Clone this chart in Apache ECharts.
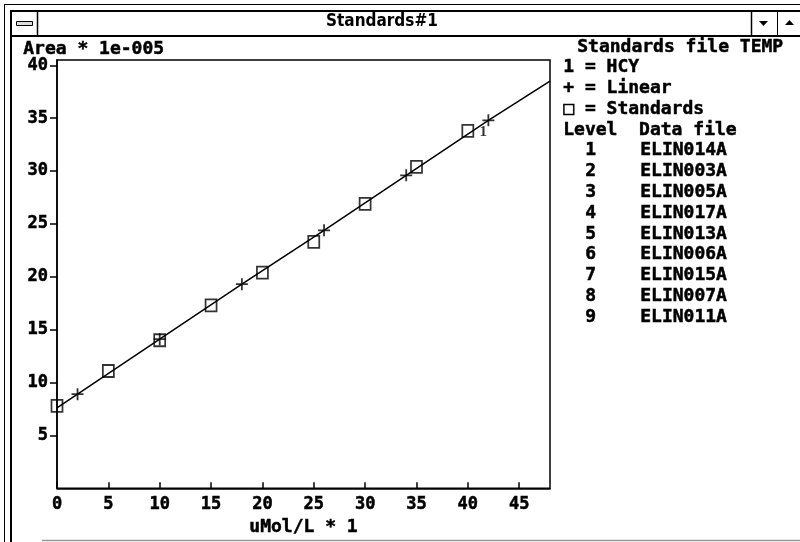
<!DOCTYPE html>
<html>
<head>
<meta charset="utf-8">
<title>Standards#1</title>
<script src="https://cdn.jsdelivr.net/npm/echarts@6/dist/echarts.min.js"></script>
<style>
  html, body { margin: 0; padding: 0; background: #fff; }
  #chart { width: 800px; height: 542px; }
</style>
</head>
<body>
<div id="chart"></div>
<script>
// standards (squares)
const standardsX = [0, 5, 10, 15, 20, 25, 30, 35, 40]
const standardsY = [7.8, 11.1, 14.0, 17.3, 20.4, 23.3, 26.9, 30.4, 33.8]
// linear fit markers (+)
const linearX = [2, 10, 18, 26, 34, 42]
const linearY = [8.9, 14.1, 19.3, 24.4, 29.6, 34.8]
// calibration curve
const curveX = [0, 2, 10, 18, 26, 34, 42, 48]
const curveY = [7.6, 8.9, 14.1, 19.3, 24.4, 29.6, 34.8, 38.5]
// HCY point, drawn as "1"
const hcyX = [41.5]
const hcyY = [33.7]

const xTicks = [0, 5, 10, 15, 20, 25, 30, 35, 40, 45]
const yTicks = [5, 10, 15, 20, 25, 30, 35, 40]

const legendLines = ['1 = HCY', '+ = Linear', '\u25A1 = Standards', 'Level  Data file']
const levels = [1, 2, 3, 4, 5, 6, 7, 8, 9]
const dataFiles = ['ELIN014A', 'ELIN003A', 'ELIN005A', 'ELIN017A', 'ELIN013A',
  'ELIN006A', 'ELIN015A', 'ELIN007A', 'ELIN011A']

const MONO = '"DejaVu Sans Mono", monospace'
const pair = (xs, ys) => xs.map((x, i) => [x, ys[i]])

// thicker strokes to mimic the old bitmap font
const heavy = { textBorderColor: '#000', textBorderWidth: 0.5 }

const txt = (text, x, y, extra) => ({
  type: 'text',
  left: x,
  top: y - 9,
  style: Object.assign({
    text: text,
    fontFamily: MONO,
    fontWeight: 'bold',
    fontSize: 18,
    fill: '#000',
    stroke: '#000',
    lineWidth: 0.5
  }, extra || {})
})
const ln = (x1, y1, x2, y2, w, c) => ({
  type: 'line',
  shape: { x1: x1, y1: y1, x2: x2, y2: y2 },
  style: { stroke: c || '#000', lineWidth: w || 1 }
})

const graphics = [
  // window frame
  ln(4.5, 4, 4.5, 542, 1),
  ln(11, 10, 11, 542, 2),
  ln(4, 4.5, 800, 4.5, 1),
  ln(11, 11, 800, 11, 2),
  ln(11, 36, 800, 36, 2),
  ln(37.5, 11, 37.5, 36, 1.5),
  ln(751.5, 11, 751.5, 36, 1.5),
  ln(777.5, 11, 777.5, 36, 1),
  ln(42, 540.5, 800, 540.5, 1.5, '#999'),
  {
    type: 'rect',
    shape: { x: 16.5, y: 21.5, width: 16, height: 4 },
    style: { fill: '#ddd', stroke: '#000', lineWidth: 1 }
  },
  {
    type: 'polygon',
    shape: { points: [[759, 21], [768, 21], [763.5, 26]] },
    style: { fill: '#000' }
  },
  {
    type: 'polygon',
    shape: { points: [[785, 25], [794, 25], [789.5, 20]] },
    style: { fill: '#000' }
  },
  {
    type: 'text',
    left: 326,
    top: 13,
    style: {
      text: 'Standards#1',
      fontFamily: '"DejaVu Sans Condensed", "DejaVu Sans", sans-serif',
      fontWeight: 'bold',
      fontSize: 17,
      fill: '#000'
    }
  },
  txt('Area * 1e-005', 23, 49),
  txt('Standards file TEMP', 577, 47)
]
legendLines.forEach((s, i) => graphics.push(txt(s, 563, 67 + i * 21)))
levels.forEach((lv, i) => {
  graphics.push(txt(String(lv), 585, 150 + i * 20.9))
  graphics.push(txt(dataFiles[i], 640, 150 + i * 20.9))
})

const chart = echarts.init(document.getElementById('chart'))
chart.setOption({
  backgroundColor: '#fff',
  animation: false,
  grid: {
    left: 57,
    right: 250,
    top: 60,
    bottom: 50,
    show: true,
    borderColor: '#000',
    borderWidth: 1.5,
    backgroundColor: 'transparent'
  },
  xAxis: {
    type: 'value',
    min: 0,
    max: 48,
    name: 'uMol/L * 1',
    nameLocation: 'middle',
    nameGap: 28,
    nameTextStyle: Object.assign({ fontFamily: MONO, fontWeight: 'bold', fontSize: 18, color: '#000' }, heavy),
    axisLine: { lineStyle: { color: '#000', width: 1.5 } },
    axisTick: { inside: true, length: 6, customValues: xTicks, lineStyle: { color: '#000', width: 1.5 } },
    axisLabel: Object.assign({ customValues: xTicks, margin: 8, fontFamily: MONO, fontWeight: 'bold', fontSize: 17, color: '#000' }, heavy),
    splitLine: { show: false }
  },
  yAxis: {
    type: 'value',
    min: 0,
    max: 40.5,
    axisLine: { lineStyle: { color: '#000', width: 1.5 } },
    axisTick: { inside: false, length: 7, customValues: yTicks, lineStyle: { color: '#000', width: 1.5 } },
    axisLabel: Object.assign({ customValues: yTicks, margin: 9, fontFamily: MONO, fontWeight: 'bold', fontSize: 17, color: '#000' }, heavy),
    splitLine: { show: false }
  },
  series: [
    {
      name: 'HCY',
      type: 'line',
      data: pair(curveX, curveY),
      showSymbol: false,
      lineStyle: { color: '#000', width: 1.5 },
      z: 1
    },
    {
      name: 'Standards',
      type: 'scatter',
      data: pair(standardsX, standardsY),
      symbol: 'rect',
      symbolSize: [11, 12],
      itemStyle: { color: 'rgba(255,255,255,0)', borderColor: '#000', borderWidth: 1.8 },
      z: 3
    },
    {
      name: 'Linear',
      type: 'scatter',
      data: pair(linearX, linearY),
      symbol: 'path://M5.1,0h1.8v12h-1.8z M0,5.1h12v1.8h-12z',
      symbolSize: 12,
      itemStyle: { color: '#000' },
      z: 4
    },
    {
      name: 'HCY point',
      type: 'scatter',
      data: pair(hcyX, hcyY),
      symbol: 'circle',
      symbolSize: 1,
      itemStyle: { color: 'rgba(0,0,0,0)' },
      label: {
        show: true,
        position: 'inside',
        formatter: '1',
        fontFamily: '"Liberation Serif", serif',
        fontWeight: 'bold',
        fontSize: 15,
        color: '#000'
      },
      z: 5
    }
  ],
  graphic: graphics
})
</script>
</body>
</html>
